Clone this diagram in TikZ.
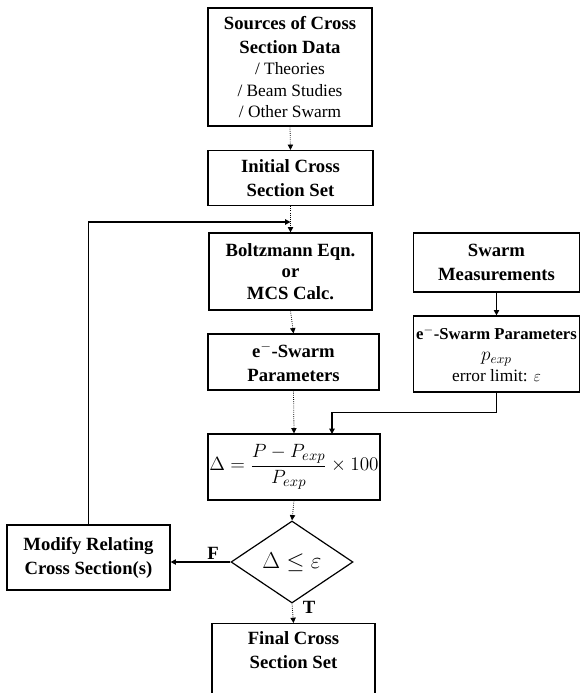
\documentclass[tikz,border=0pt]{standalone}
\usepackage{fontspec}
\setmainfont{Liberation Serif}
\usepackage{amsmath}
\usepackage{amssymb}
\usetikzlibrary{shapes.geometric,arrows.meta}

\newcommand{\hdf}{\fontsize{14}{18}\selectfont\bfseries}
\newcommand{\rgf}{\fontsize{13}{16}\selectfont}

\begin{document}
\begin{tikzpicture}[x=0.75pt,y=0.75pt,yscale=-1,xscale=1,
  box/.style={draw,line width=0.9pt,align=center,inner sep=0.75pt,font=\rgf},
  flowarrow/.style={line width=0.9pt,-{Triangle[length=4pt,width=4pt]}},
  thinarrow/.style={densely dotted,line width=0.6pt,-{Triangle[length=4pt,width=4pt]}},
  lbl/.style={inner sep=0.75pt,font=\hdf}
]
\clip (0,0) rectangle (583,693);

%Shape: Rectangle [id:src]
\node (src) [box,minimum width=123pt,minimum height=88.5pt] at (290,67)
  {{\hdf Sources of Cross}\\[2pt] {\hdf Section Data}\\ / Theories\\ / Beam Studies\\ / Other Swarm};
%Shape: Rectangle [id:init]
\node (init) [box,minimum width=123.75pt,minimum height=41.25pt] at (290.5,178)
  {{\hdf Initial Cross}\\[2pt] {\hdf Section Set}};
%Shape: Rectangle [id:boltz]
\node (boltz) [box,minimum width=122.25pt,minimum height=57.75pt] at (290.5,271.5)
  {{\hdf Boltzmann Eqn.}\\ {\hdf or}\\ {\hdf MCS Calc.}};
%Shape: Rectangle [id:eswarm]
\node (eswarm) [box,minimum width=128.25pt,minimum height=42pt] at (293.5,362)
  {{\hdf e$^{-}$-Swarm}\\[2pt] {\hdf Parameters}};
%Shape: Rectangle [id:delta]
\node (delta) [box,minimum width=129pt,minimum height=49.5pt,font=\fontsize{15}{18}\selectfont] at (294,467)
  {$\Delta = \dfrac{P - P_{exp}}{P_{exp}} \times 100$};
%Shape: Diamond [id:test]
\node (test) [draw,line width=0.9pt,diamond,minimum width=91.5pt,minimum height=61.5pt,inner sep=0pt,font=\fontsize{17}{20}\selectfont] at (292,562)
  {$\Delta \leq \varepsilon$};
%Shape: Rectangle [id:modify]
\node (modify) [box,minimum width=122.25pt,minimum height=48.75pt] at (88.5,557.5)
  {{\hdf Modify Relating}\\[2pt] {\hdf Cross Section(s)}};
%Shape: Rectangle [id:final]
\node (final) [box,anchor=north,minimum width=122.25pt,inner ysep=6pt,text depth=40pt] at (293.5,623)
  {{\hdf Final Cross}\\[2pt] {\hdf Section Set}};
%Shape: Rectangle [id:meas]
\node (meas) [box,minimum width=125pt,minimum height=44.25pt] at (496.5,262.5)
  {{\hdf Swarm}\\[2pt] {\hdf Measurements}};
%Shape: Rectangle [id:eexp]
\node (eexp) [box,minimum width=125pt,minimum height=57pt] at (496.5,354)
  {{\fontsize{12.5}{16}\selectfont\bfseries e$^{-}$-Swarm Parameters}\\ {\fontsize{14}{16}\selectfont$p_{exp}$}\\ error limit: $\varepsilon$};

% Text Node
\node (lblF) [lbl] at (213,553) {F};
% Text Node
\node (lblT) [lbl] at (309,607) {T};

\coordinate (join) at (290.5,222);
\coordinate (dright) at (332,434);

%Straight Lines
\draw [thinarrow] (src.south) -- (init.north);
\draw [thinarrow] (init.south) -- (boltz.north);
\draw [thinarrow] (boltz.south) -- (eswarm.north);
\draw [thinarrow] (eswarm.south) -- (delta.north);
\draw [thinarrow] (delta.south) -- (test.north);
\draw [thinarrow] (test.south) -- (final.north);
\draw [flowarrow] (test.west) -- (test.west -| modify.east);
\draw [flowarrow] (modify.north) |- (join);
\draw [flowarrow,line width=0.6pt] (meas.south) -- (eexp.north);
\draw [flowarrow] (eexp.south) -- ++(0,20) -| (dright);

\end{tikzpicture}
\end{document}
